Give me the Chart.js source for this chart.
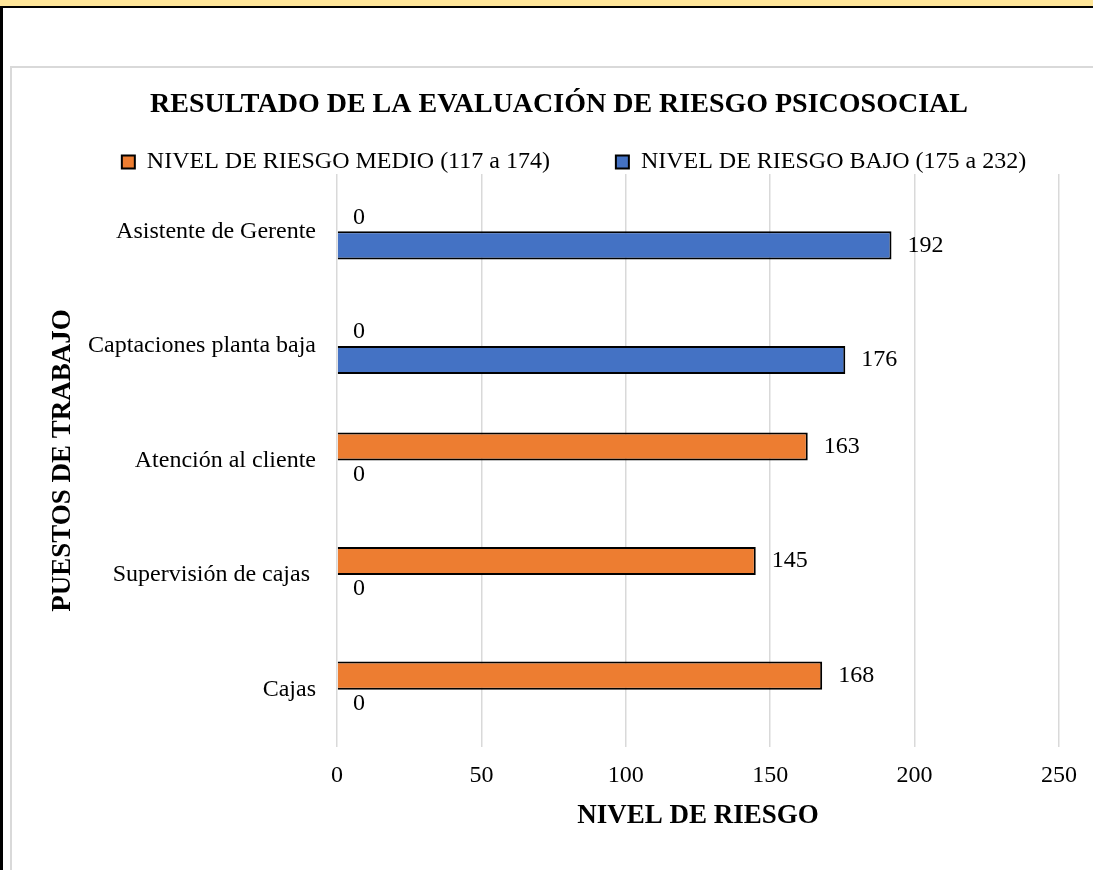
<!DOCTYPE html>
<html lang="es">
<head>
  <meta charset="UTF-8" />
  <title>Resultado de la evaluación de riesgo psicosocial</title>
  <script src="https://cdn.jsdelivr.net/npm/chart.js"></script>
  <style>
    body { margin: 0; background: #fff; overflow: hidden; }
    #band {
      position: absolute; left: 0; top: 0; width: 1093px; height: 6px;
      background: #ffe699; border-bottom: 2px solid #000;
    }
    #edge { position: absolute; left: 0; top: 8px; width: 3px; height: 862px; background: #000; }
    #box {
      position: absolute; left: 10px; top: 66px; width: 1110px; height: 830px;
      border-left: 2px solid #d9d9d9; border-top: 2px solid #d9d9d9;
    }
    #wrap { position: relative; width: 1094px; height: 802px; }
  </style>
</head>
<body>
  <div id="band"></div>
  <div id="edge"></div>
  <div id="box">
    <div id="wrap"><canvas id="riskChart"></canvas></div>
  </div>

  <script>
    const categories = ["Asistente de Gerente", "Captaciones planta baja", "Atención al cliente", "Supervisión de cajas ", "Cajas"];
    const seriesNames = ["NIVEL DE RIESGO MEDIO (117 a 174)", "NIVEL DE RIESGO BAJO (175 a 232)"];
    const medioValues = [0, 0, 163, 145, 168];
    const bajoValues = [192, 176, 0, 0, 0];
    const xMin = 0, xMax = 250, xStep = 50;

    const SERIF = "'Liberation Serif', 'Times New Roman', serif";

    // value labels to the right of each bar (like Excel data labels)
    const barLabels = {
      id: "barLabels",
      afterDatasetsDraw(chart) {
        const ctx = chart.ctx;
        ctx.save();
        ctx.font = "24px " + SERIF;
        ctx.fillStyle = "#000";
        ctx.textAlign = "left";
        ctx.textBaseline = "middle";
        chart.data.datasets.forEach((ds, i) => {
          chart.getDatasetMeta(i).data.forEach((bar, j) => {
            ctx.fillText(String(ds.data[j]), bar.x + 16, bar.y);
          });
        });
        ctx.restore();
      }
    };

    // legend sits a bit right of the title in the original
    const nudgeLegend = {
      id: "nudgeLegend",
      afterLayout(chart) {
        chart.legend.left += 15;
        chart.legend.right += 15;
      }
    };

    new Chart(document.getElementById("riskChart"), {
      type: "bar",
      data: {
        labels: categories,
        datasets: [
          { label: seriesNames[0], data: medioValues, backgroundColor: "#ED7D31", borderColor: "#000", borderWidth: 2, yAxisID: "y" },
          { label: seriesNames[1], data: bajoValues, backgroundColor: "#4472C4", borderColor: "#000", borderWidth: 2, yAxisID: "y" }
        ]
      },
      options: {
        indexAxis: "y",
        responsive: true,
        maintainAspectRatio: false,
        animation: false,
        categoryPercentage: 0.49,
        barPercentage: 1,
        layout: { padding: 0 },
        plugins: {
          title: {
            display: true,
            text: "RESULTADO DE LA EVALUACIÓN DE RIESGO PSICOSOCIAL",
            color: "#000",
            font: { family: SERIF, size: 28, weight: "bold" },
            padding: { top: 20, bottom: -37.6 }
          },
          legend: {
            display: true,
            maxHeight: 90,
            labels: {
              color: "#000",
              font: { family: SERIF, size: 24 },
              boxWidth: 13,
              boxHeight: 13,
              padding: 66
            }
          },
          tooltip: { enabled: false }
        },
        scales: {
          x: {
            min: xMin,
            max: xMax,
            ticks: { stepSize: xStep, color: "#000", font: { family: SERIF, size: 24 }, padding: 14 },
            grid: { color: "#d9d9d9", lineWidth: 1.5, drawTicks: false },
            border: { display: false },
            title: {
              display: true,
              text: "NIVEL DE RIESGO",
              color: "#000",
              font: { family: SERIF, size: 27, weight: "bold" },
              padding: { top: 0, bottom: 38 }
            },
            afterFit(scale) { scale.height = 123; }
          },
          y: {
            position: "left",
            ticks: { color: "#000", font: { family: SERIF, size: 24 }, padding: 21 },
            grid: { display: false, drawTicks: false },
            border: { display: false },
            title: {
              display: true,
              text: "PUESTOS DE TRABAJO",
              color: "#000",
              font: { family: SERIF, size: 27, weight: "bold" },
              padding: { top: 35, bottom: 0 }
            },
            afterFit(scale) { scale.width = 325; }
          },
          yRight: {
            type: "category",
            position: "right",
            ticks: { display: false },
            grid: { display: false, drawTicks: false },
            border: { display: false },
            afterFit(scale) { scale.width = 47; }
          }
        }
      },
      plugins: [barLabels, nudgeLegend]
    });
  </script>
</body>
</html>
